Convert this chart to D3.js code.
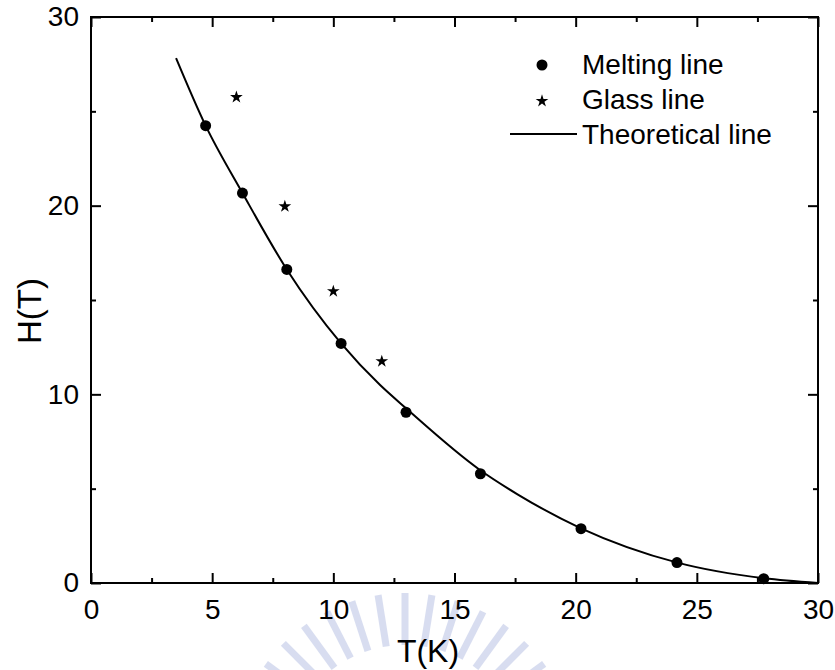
<!DOCTYPE html>
<html>
<head>
<meta charset="utf-8">
<script src="https://cdn.jsdelivr.net/npm/d3@7"></script>
<style>
  body { margin: 0; background: #fff; }
  text { font-family: "Liberation Sans", Arial, sans-serif; fill: #000; }
</style>
</head>
<body>
<svg width="835" height="670"></svg>
<script>
// melting line (circles)
var meltT = [4.73, 6.25, 8.08, 10.32, 13.0, 16.07, 20.22, 24.18, 27.76];
var meltH = [24.24, 20.67, 16.62, 12.70, 9.05, 5.79, 2.88, 1.08, 0.23];
// glass line (stars)
var glassT = [6.0, 8.0, 10.0, 12.0];
var glassH = [25.75, 19.96, 15.46, 11.75];
// theoretical line
var theoT = [3.51, 4.73, 6.25, 8.08, 10.32, 11.93, 13.0, 16.05, 17.6, 20.22, 24.2, 27.78, 30.0];
var theoH = [27.82, 24.24, 20.67, 16.62, 12.70, 10.49, 9.26, 5.99, 4.70, 2.90, 1.08, 0.25, 0.0];

var xTicks = [0, 5, 10, 15, 20, 25, 30];
var yTicks = [0, 10, 20, 30];
var legendLabels = ["Melting line", "Glass line", "Theoretical line"];

var svg = d3.select("svg");

var padL = 91, padR = 818, padT = 17, padB = 583;

var x = d3.scaleLinear().domain([0, 30]).range([padL, padR]);
var y = d3.scaleLinear().domain([0, 30]).range([padB, padT]);

// faint watermark
var wm = svg.append("g").attr("opacity", 0.45);
d3.range(-162, -14, 9).forEach(function(a) {
  var r = a * Math.PI / 180;
  wm.append("line")
    .attr("x1", 405 + 120 * Math.cos(r)).attr("y1", 765 + 120 * Math.sin(r))
    .attr("x2", 405 + 172 * Math.cos(r)).attr("y2", 765 + 172 * Math.sin(r))
    .attr("stroke", "#aab6df").attr("stroke-width", 7);
});

// frame
svg.append("rect")
  .attr("x", padL).attr("y", padT)
  .attr("width", padR - padL).attr("height", padB - padT)
  .attr("fill", "none").attr("stroke", "#000").attr("stroke-width", 2);

var xMinor = d3.range(2.5, 30, 5);
var yMinor = d3.range(5, 30, 10);

// axes, ticks pointing inward
svg.append("g").attr("transform", "translate(0," + padB + ")")
  .call(d3.axisBottom(x).tickValues(xTicks).tickSize(-10).tickPadding(16).tickFormat(d3.format("d")));
svg.append("g").attr("transform", "translate(0," + padB + ")")
  .call(d3.axisBottom(x).tickValues(xMinor).tickSize(-5).tickFormat(""));
svg.append("g").attr("transform", "translate(0," + padT + ")")
  .call(d3.axisTop(x).tickValues(xTicks).tickSize(-10).tickFormat(""));
svg.append("g").attr("transform", "translate(0," + padT + ")")
  .call(d3.axisTop(x).tickValues(xMinor).tickSize(-5).tickFormat(""));
svg.append("g").attr("transform", "translate(" + padL + ",0)")
  .call(d3.axisLeft(y).tickValues(yTicks).tickSize(-10).tickPadding(12).tickFormat(d3.format("d")));
svg.append("g").attr("transform", "translate(" + padL + ",0)")
  .call(d3.axisLeft(y).tickValues(yMinor).tickSize(-5).tickFormat(""));
svg.append("g").attr("transform", "translate(" + padR + ",0)")
  .call(d3.axisRight(y).tickValues(yTicks).tickSize(-10).tickFormat(""));
svg.append("g").attr("transform", "translate(" + padR + ",0)")
  .call(d3.axisRight(y).tickValues(yMinor).tickSize(-5).tickFormat(""));

svg.selectAll(".domain").remove();
svg.selectAll(".tick line").attr("stroke", "#000").attr("stroke-width", 2);
svg.selectAll(".tick text")
  .style("font-family", "'Liberation Sans', Arial, sans-serif")
  .style("font-size", "28px").attr("fill", "#000");

// axis titles
svg.append("text").attr("x", 428).attr("y", 662)
  .attr("text-anchor", "middle").style("font-size", "32px").text("T(K)");
svg.append("text")
  .attr("transform", "translate(41,311) rotate(-90)")
  .attr("text-anchor", "middle").style("font-size", "33px").text("H(T)");

// theoretical curve
var theo = theoT.map(function(t, i) { return [t, theoH[i]]; });
svg.append("path").datum(theo)
  .attr("fill", "none").attr("stroke", "#000").attr("stroke-width", 2)
  .attr("d", d3.line().x(function(d) { return x(d[0]); }).y(function(d) { return y(d[1]); })
    .curve(d3.curveMonotoneX));

// melting points
svg.selectAll("circle.melt").data(meltT).enter().append("circle")
  .attr("class", "melt")
  .attr("cx", function(d) { return x(d); })
  .attr("cy", function(d, i) { return y(meltH[i]); })
  .attr("r", 5.5).attr("fill", "#000");

// glass points
var star = d3.symbol().type(d3.symbolStar).size(50);
svg.selectAll("path.glass").data(glassT).enter().append("path")
  .attr("class", "glass")
  .attr("transform", function(d, i) { return "translate(" + x(d) + "," + y(glassH[i]) + ")"; })
  .attr("d", star).attr("fill", "#000");

// legend
var lg = svg.append("g");
lg.append("circle").attr("cx", 542).attr("cy", 65).attr("r", 5.5).attr("fill", "#000");
lg.append("path").attr("transform", "translate(542,101)").attr("d", star).attr("fill", "#000");
lg.append("line").attr("x1", 510).attr("x2", 577).attr("y1", 134).attr("y2", 134)
  .attr("stroke", "#000").attr("stroke-width", 2);
lg.selectAll("text").data(legendLabels).enter().append("text")
  .attr("x", 582)
  .attr("y", function(d, i) { return 74 + i * 35; })
  .style("font-size", "28px")
  .text(function(d) { return d; });
</script>
</body>
</html>
